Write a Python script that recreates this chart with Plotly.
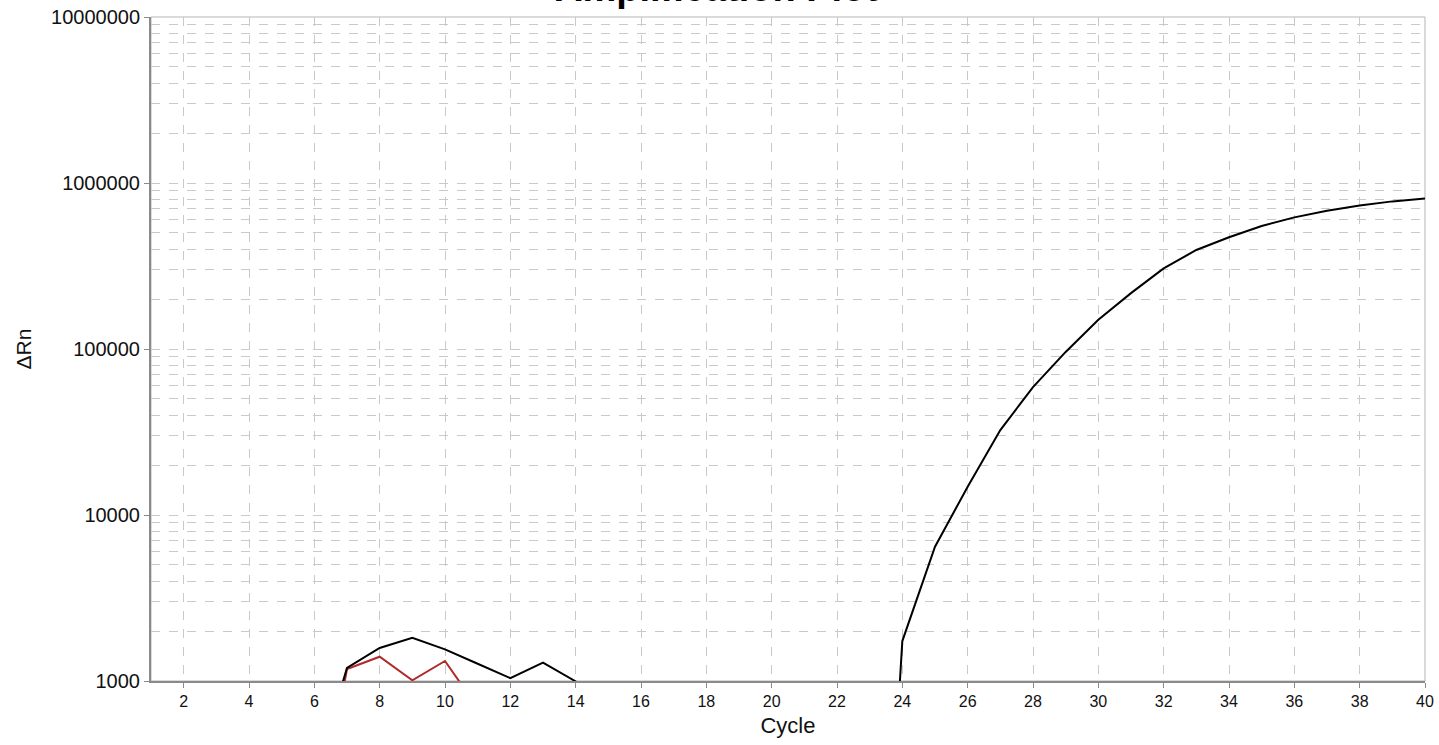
import plotly.graph_objects as go

cycles = list(range(1, 41))

# Delta Rn, sample 1 (black). Values below 1000 are off the visible range.
sample_black = [
    150, 210, 180, 230, 240, 260, 1200, 1580, 1820, 1550,
    1270, 1040, 1290, 995, 420, 380, 350, 330, 300, 280,
    250, 200, 1, 1740, 6440, 14800, 32500, 59000, 96000, 150000,
    217000, 306000, 395000, 471000, 551000, 621000, 681000, 733000, 775000, 807000,
]

# Delta Rn, sample 2 (red).
sample_red = [
    120, 160, 140, 170, 150, 100, 1180, 1400, 1010, 1320,
    690, 300, 280, 260, 240, 230, 220, 210, 200, 190,
    180, 170, 160, 150, 140, 130, 120, 110, 100, 95,
    90, 85, 80, 75, 70, 65, 60, 55, 50, 45,
]

y_tickvals = [1000, 10000, 100000, 1000000, 10000000]
y_ticktext = ["1000", "10000", "100000", "1000000", "10000000"]
x_tickvals = list(range(2, 41, 2))

FONT = "Arial, Liberation Sans, sans-serif"
GRID = "#c9c9c9"
AXIS = "#8a8a8a"

fig = go.Figure()
fig.add_trace(go.Scatter(x=cycles, y=sample_red, mode="lines",
                         line=dict(color="#b02a2a", width=2), showlegend=False))
fig.add_trace(go.Scatter(x=cycles, y=sample_black, mode="lines",
                         line=dict(color="#000000", width=2), showlegend=False))

fig.update_layout(
    width=1439, height=745,
    margin=dict(l=151, r=14, t=17, b=64, autoexpand=False),
    paper_bgcolor="white", plot_bgcolor="white",
    font=dict(family=FONT, color="#111"),
    showlegend=False,
    xaxis=dict(
        range=[1, 40], tickvals=x_tickvals, automargin=False,
        ticks="outside", ticklen=5, tickcolor=AXIS, tickwidth=1,
        showline=True, linecolor=AXIS, linewidth=2,
        showgrid=True, gridcolor=GRID, griddash="dash", gridwidth=1,
        zeroline=False, tickfont=dict(size=16, family=FONT),
        title=dict(text="Cycle", font=dict(size=22, family=FONT), standoff=8),
    ),
    yaxis=dict(
        type="log", range=[3, 7], automargin=False,
        tickvals=y_tickvals, ticktext=y_ticktext,
        ticks="outside", ticklen=5, tickcolor=AXIS, tickwidth=1,
        showline=True, linecolor=AXIS, linewidth=2,
        showgrid=True, gridcolor=GRID, griddash="dash", gridwidth=1,
        minor=dict(dtick="D1", showgrid=True, gridcolor=GRID, griddash="dash",
                   gridwidth=1, ticks=""),
        zeroline=False, tickfont=dict(size=20, family=FONT),
        title=dict(text="ΔRn", font=dict(size=21, family=FONT), standoff=14),
    ),
    shapes=[dict(type="rect", xref="paper", yref="paper", x0=0, x1=1, y0=0, y1=1,
                 line=dict(color="#b5b5b5", width=1), layer="below")],
    annotations=[dict(text="<b>Amplification Plot</b>", xref="paper", yref="paper",
                      x=(716 - 151) / 1274, y=1.0435, xanchor="center", yanchor="middle",
                      showarrow=False, font=dict(size=38, family=FONT, color="#000"))],
)

fig.write_html("out.html")
